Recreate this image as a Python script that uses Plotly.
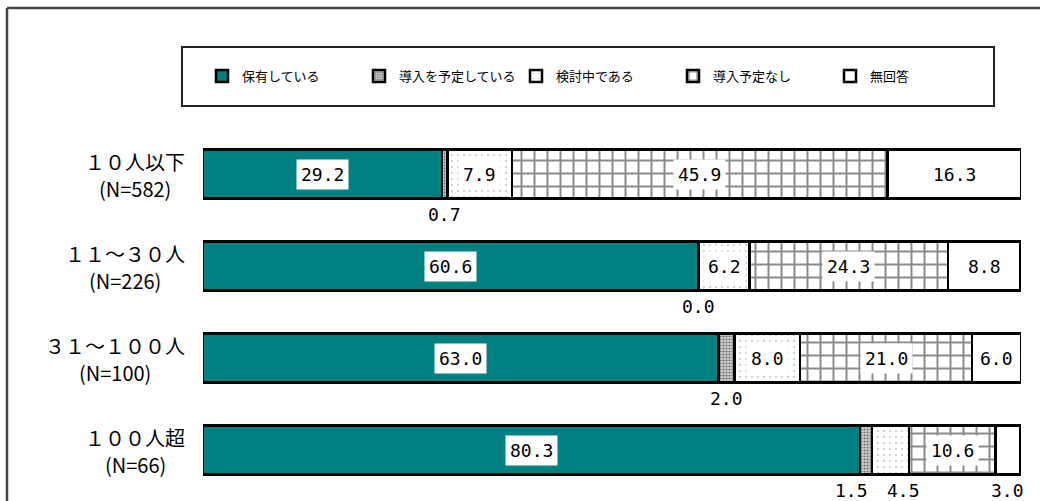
import plotly.graph_objects as go

# Company-size groups (rows) and number of respondents
groups = ["１０人以下", "１１～３０人", "３１～１００人", "１００人超"]
group_n = [582, 226, 100, 66]

# Response categories (stacked segments), values in percent
series_names = ["保有している", "導入を予定している", "検討中である", "導入予定なし", "無回答"]
owned = [29.2, 60.6, 63.0, 80.3]
planned = [0.7, 0.0, 2.0, 1.5]
considering = [7.9, 6.2, 8.0, 4.5]
no_plan = [45.9, 24.3, 21.0, 10.6]
no_answer = [16.3, 8.8, 6.0, 3.0]
series_values = [owned, planned, considering, no_plan, no_answer]

# Canvas geometry (pixels)
W, H = 1040, 501
ML, MR, MT, MB = 203, 19, 128, 5
PW, PH = W - ML - MR, H - MT - MB


def px_x(x):
    return (x - ML) / PW


def px_y(y):
    return (H - MB - y) / PH


JP_FONT = "Noto Sans CJK JP"
NUM_FONT = "DejaVu Sans Mono"
ROW_FONT_SIZE = 20

styles = [
    dict(color="#008080", pattern=None),
    dict(color="#d0d0d0", pattern=dict(shape=".", fgcolor="#707070", bgcolor="#d0d0d0",
                                       size=3, solidity=0.4, fillmode="replace")),
    dict(color="white", pattern=dict(shape=".", fgcolor="#8a8a8a", bgcolor="white",
                                     size=6, solidity=0.045, fillmode="replace")),
    dict(color="white", pattern=dict(shape="+", fgcolor="#8a8a8a", bgcolor="white",
                                     size=13, solidity=0.28, fillmode="replace")),
    dict(color="white", pattern=None),
]

fig = go.Figure()
for name, vals, st in zip(series_names, series_values, styles):
    marker = dict(color=st["color"], line=dict(color="black", width=2.5))
    if st["pattern"] is not None:
        marker["pattern"] = st["pattern"]
    fig.add_trace(go.Bar(
        y=groups, x=vals, name=name, orientation="h",
        marker=marker, hoverinfo="name+x",
    ))

# Value labels: boxed inside wide segments, underneath narrow ones
annotations = []
below_nudge = {(3, 1): -14, (3, 2): 13}
for r, g in enumerate(groups):
    start = 0.0
    for s, vals in enumerate(series_values):
        v = vals[r]
        mid = start + v / 2
        txt = f"{v:.1f}"
        if v >= 5:
            annotations.append(dict(
                x=mid, y=g, xref="x", yref="y", text=txt, showarrow=False,
                font=dict(family=NUM_FONT, size=18, color="black"),
                bgcolor="white", borderpad=4,
            ))
        else:
            annotations.append(dict(
                x=mid, y=g, xref="x", yref="y", text=txt, showarrow=False,
                font=dict(family=NUM_FONT, size=18, color="black"),
                yshift=-40, xshift=below_nudge.get((r, s), 0),
            ))
        start += v

# Row labels: group name over respondent count, block right-aligned to the bars
for g, n in zip(groups, group_n):
    # full-width characters are one em wide
    cx = 185 - ROW_FONT_SIZE * len(g) / 2
    annotations.append(dict(
        x=px_x(cx), y=g, xref="paper", yref="y", text=g, showarrow=False,
        xanchor="center", yanchor="middle", yshift=13,
        font=dict(family=JP_FONT, size=ROW_FONT_SIZE, color="black"),
    ))
    annotations.append(dict(
        x=px_x(cx), y=g, xref="paper", yref="y", text=f"(N={n})", showarrow=False,
        xanchor="center", yanchor="middle", yshift=-14,
        font=dict(family=JP_FONT, size=ROW_FONT_SIZE, color="black"),
    ))

shapes = [
    # legend frame
    dict(type="rect", xref="paper", yref="paper",
         x0=px_x(182), x1=px_x(994), y0=px_y(47), y1=px_y(106),
         line=dict(color="#222", width=2), fillcolor="rgba(0,0,0,0)", layer="below"),
    # outer frame (top and left edges)
    dict(type="line", xref="paper", yref="paper",
         x0=px_x(7), x1=px_x(1045), y0=px_y(8), y1=px_y(8),
         line=dict(color="#444", width=2.5)),
    dict(type="line", xref="paper", yref="paper",
         x0=px_x(7), x1=px_x(7), y0=px_y(8), y1=px_y(505),
         line=dict(color="#444", width=2.5)),
]

fig.update_layout(
    width=W, height=H,
    margin=dict(l=ML, r=MR, t=MT, b=MB),
    barmode="stack", bargap=0.47,
    plot_bgcolor="white", paper_bgcolor="white",
    xaxis=dict(range=[0, 100], visible=False, fixedrange=True),
    yaxis=dict(type="category", categoryorder="array", categoryarray=groups,
               range=[len(groups) - 0.5, -0.5], autorange=False,
               showticklabels=False, showgrid=False, zeroline=False, fixedrange=True),
    showlegend=True,
    legend=dict(
        orientation="h", xref="container", yref="container",
        x=202 / W, y=1 - 76 / H, xanchor="left", yanchor="middle",
        entrywidth=112, entrywidthmode="pixels", traceorder="normal",
        font=dict(family=JP_FONT, size=13, color="black"),
        bgcolor="rgba(0,0,0,0)", borderwidth=0,
    ),
    annotations=annotations,
    shapes=shapes,
    font=dict(family=JP_FONT),
)

fig.write_html("out.html")
